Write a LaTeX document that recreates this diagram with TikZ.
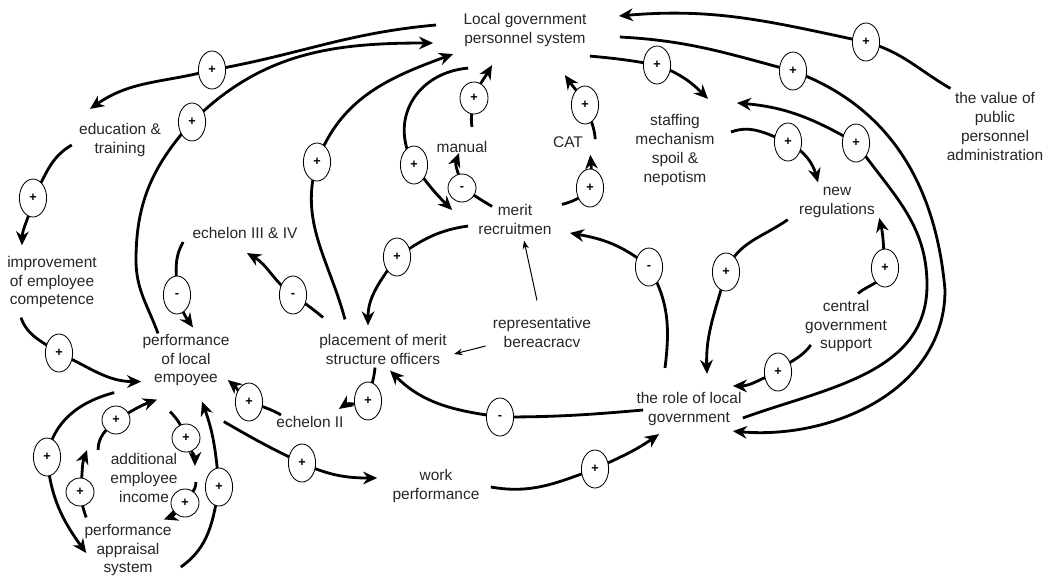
\documentclass[tikz,border=0pt]{standalone}
\usepackage{fontspec}
\setmainfont{Liberation Sans}
\usetikzlibrary{shapes.geometric, arrows.meta}
\tikzset{
  var/.style = {
    align=center, inner sep=1.5pt, text=black!85,
    font=\fontsize{11}{13.5}\selectfont
  },
  sign/.style = {
    ellipse, draw=black, line width=0.6pt, fill=white,
    minimum width=0.68cm, minimum height=0.95cm, inner sep=0pt,
    font=\small\bfseries
  },
  smallsign/.style = {sign, minimum width=0.7cm, minimum height=0.7cm},
  link/.style = {-{Stealth[length=10pt,width=9pt]}, line width=2pt},
  thinlink/.style = {-{Stealth[length=6pt,width=4.5pt]}, line width=0.7pt}
}
\begin{document}
\begin{tikzpicture}[x=0.025cm, y=0.025cm]
  \useasboundingbox (0,0) rectangle (1056,-575);

  \node[var] (lgps)    at (525,-30)  {Local government\\personnel system};
  \node[var] (value)   at (995,-126) {the value of\\public\\personnel\\administration};
  \node[var] (edu)     at (120,-140) {education \&\\training};
  \node[var] (improve) at (52,-282)  {improvement\\of employee\\competence};
  \node[var] (ech34)   at (245,-233) {echelon III \& IV};
  \node[var] (manual)  at (462,-147) {manual};
  \node[var] (cat)     at (568,-142) {CAT};
  \node[var] (merit)   at (515,-219) {merit\\recruitmen};
  \node[var] (staff)   at (675,-150) {staffing\\mechanism\\spoil \&\\nepotism};
  \node[var] (newreg)  at (837,-202) {new\\regulations};
  \node[var] (central) at (846,-326) {central\\government\\support};
  \node[var] (place)   at (383,-349) {placement of merit\\structure officers};
  \node[var] (repr)    at (542,-332) {representative\\bereacracv};
  \node[var] (perf)    at (186,-360) {performance\\of local\\empoyee};
  \node[var] (ech2)    at (310,-422) {echelon II};
  \node[var] (role)    at (689,-409) {the role of local\\government};
  \node[var] (work)    at (436,-486) {work\\performance};
  \node[var] (addinc)  at (144,-478) {additional\\employee\\income};
  \node[var] (appr)    at (128,-550) {performance\\appraisal\\system};

  % links around the personnel system
  \draw[link] ([shift={(-25,5)}]lgps.west) to[out=185,in=10] (212,-70) node[sign] (s1) {+}
      to[out=195,in=35] ([shift={(-30,12)}]edu.north);
  \draw[link] ([shift={(-28,-2)}]perf.north) to[out=110,in=270] (136,-260)
      to[out=90,in=228] (192,-122) node[sign] (s2) {+} to[out=45,in=180] ([shift={(-28,-13)}]lgps.west);
  \draw[link] ([shift={(-38,12)}]place.north) to[out=105,in=253] (317,-162) node[sign] (s3) {+}
      to[out=70,in=200] ([shift={(-8,-5)}]lgps.south west);
  \draw[link] ([shift={(7,-19)}]lgps.south west) to[out=185,in=120,looseness=1.2] (414,-165) node[sign] (s4) {+}
      to[out=-55,in=135] ([shift={(-24,9)}]merit.west);
  \draw[link] ([shift={(10,12)}]manual.north) to[out=100,in=265] (474,-98) node[smallsign, minimum height=0.8cm] (s5) {+}
      to[out=70,in=240] ([shift={(-33,-16)}]lgps.south);
  \draw[link] ([shift={(16,-5)}]merit.north west) to[out=150,in=-30] (462,-188) node[smallsign] (s6) {-}
      to[out=100,in=250] ([shift={(-3,2)}]manual.south);
  \draw[link] ([shift={(10,-5)}]cat.north east) to[out=95,in=290] (585,-105) node[sign] (s7) {+}
      to[out=115,in=305] ([shift={(-24,-26)}]lgps.south east);
  \draw[link] ([shift={(8,-3)}]merit.north east) to[out=15,in=230] (590,-188) node[sign] (s8) {+}
      to[out=85,in=275] ([shift={(5,-5)}]cat.south east);
  \draw[link] ([shift={(1,-7)}]lgps.south east) to[out=-5,in=170] (657,-65) node[sign] (s9) {+}
      to[out=-20,in=135] ([shift={(33,13)}]staff.north);
  \draw[link] ([shift={(6,1)}]value.north west) to[out=150,in=-15] (866,-42) node[sign] (s10) {+}
      to[out=168,in=5] ([shift={(30,14)}]lgps.east);
  \draw[link] ([shift={(31,-7)}]lgps.east) to[out=-3,in=165] (793,-71) node[sign] (s11) {+}
      to[out=-20,in=95] (945,-290) to[out=-90,in=-5] ([shift={(-11,-3)}]role.south east);
  \draw[link] ([shift={(-1,-9)}]role.east) to[out=20,in=-90] (927,-285)
      to[out=90,in=-55] (856,-143) node[sign] (s12) {+} to[out=150,in=-5] ([shift={(20,9)}]staff.north east);

  % right part
  \draw[link] ([shift={(14,18)}]staff.east) to[out=20,in=160] (788,-142) node[sign] (s13) {+}
      to[out=-30,in=105] ([shift={(-19,2)}]newreg.north);
  \draw[link] ([shift={(-9,0)}]newreg.south west) to[out=215,in=70] (726,-272) node[sign] (s14) {+}
      to[out=255,in=92] ([shift={(18,16)}]role.north);
  \draw[link] ([shift={(12,4)}]central.north) to[out=40,in=-90] (885,-268) node[sign] (s15) {+}
      to[out=95,in=-77] ([shift={(2,-16)}]newreg.east);
  \draw[link] ([shift={(8,-19)}]central.west) to[out=235,in=45] (778,-372) node[sign] (s16) {+}
      to[out=200,in=0] ([shift={(-11,4)}]role.north east);
  \draw[link] ([shift={(-24,22)}]role.north) to[out=83,in=-60] (649,-267) node[sign] (s17) {-}
      to[out=140,in=-10] ([shift={(16,-14)}]merit.east);
  \draw[link] ([shift={(9,-1)}]role.west) to[out=185,in=0] (500,-417) node[sign] (s18) {-}
      to[out=172,in=-45] ([shift={(7,-4)}]place.south);

  % centre
  \draw[link] ([shift={(-8,-7)}]merit.west) to[out=188,in=35] (397,-257) node[sign] (s19) {+}
      to[out=235,in=90] ([shift={(-15,6)}]place.north);
  \draw[thinlink] ([shift={(-5,-14)}]repr.west) -- ([shift={(5,-5)}]place.east);
  \draw[thinlink] ([shift={(-5,14)}]repr.north) -- ([shift={(9,-4)}]merit.south);
  \draw[link] ([shift={(6,14)}]place.north west) to[out=140,in=-35] (293,-295) node[sign] (s20) {-}
      to[out=145,in=-30] ([shift={(2,-12)}]ech34.south);
  \draw[link] ([shift={(-7,-9)}]ech34.west) to[out=240,in=90] (177,-295) node[sign] (s21) {-}
      to[out=-75,in=125] ([shift={(7,4)}]perf.north);
  \draw[link] ([shift={(-8,-1)}]place.south) to[out=265,in=80] (368,-401) node[sign] (s22) {+}
      to[out=210,in=35] ([shift={(-7,5)}]ech2.north east);
  \draw[link] ([shift={(7,-1)}]ech2.north west) to[out=150,in=-20] (249,-402) node[sign] (s23) {+}
      to[out=145,in=-40] ([shift={(-4,-20)}]perf.east);
  \draw[link] ([shift={(-8,-33)}]perf.south east) to[out=-30,in=155] (302,-463) node[sign] (s24) {+}
      to[out=-25,in=180] ([shift={(-13,8)}]work.west);
  \draw[link] ([shift={(9,-1)}]work.east) to[out=-10,in=200] (595,-469) node[sign] (s25) {+}
      to[out=25,in=215] ([shift={(-30,-6)}]role.south);

  % left part
  \draw[link] ([shift={(-5,-5)}]edu.west) to[out=210,in=60] (33,-198) node[sign] (s26) {+}
      to[out=262,in=88] ([shift={(17,8)}]improve.north west);
  \draw[link] ([shift={(16,-7)}]improve.south west) to[out=-70,in=145] (59,-353) node[sign] (s27) {+}
      to[out=-25,in=180] ([shift={(1,7)}]perf.south west);
  \draw[link] ([shift={(-26,-4)}]perf.south west) to[out=195,in=80] (47,-457) node[sign] (s28) {+}
      to[out=-85,in=126] ([shift={(4,-3)}]appr.west);
  \draw[link] ([shift={(7,-17)}]appr.east) to[out=35,in=260] (219,-487) node[sign] (s29) {+}
      to[out=95,in=290] ([shift={(16,-13)}]perf.south);
  \draw[link] ([shift={(4,4)}]appr.north west) to[out=110,in=280] (80,-492) node[smallsign] (s30) {+}
      to[out=80,in=250] ([shift={(-21,1)}]addinc.north west);
  \draw[link] ([shift={(-10,1)}]addinc.north west) to[out=90,in=225] (116,-420) node[smallsign] (s31) {+}
      to[out=30,in=200] ([shift={(-29,-11)}]perf.south);
  \draw[link] ([shift={(-16,-23)}]perf.south) to[out=-45,in=110] (186,-438) node[smallsign] (s32) {+}
      to[out=-80,in=90] ([shift={(15,12)}]addinc.east);
  \draw[link] ([shift={(16,-4)}]addinc.east) to[out=270,in=60] (185,-503) node[smallsign] (s33) {+}
      to[out=220,in=20] ([shift={(-10,2)}]appr.north east);
\end{tikzpicture}
\end{document}
